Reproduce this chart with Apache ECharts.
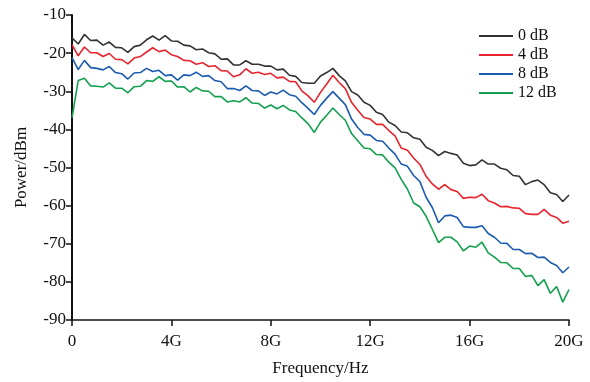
<!DOCTYPE html>
<html>
<head>
<meta charset="utf-8">
<script src="https://cdn.jsdelivr.net/npm/echarts@6/dist/echarts.min.js"></script>
<style>
html,body{margin:0;padding:0;background:#ffffff;}
#chart{width:590px;height:382px;}
</style>
</head>
<body>
<div id="chart"></div>
<script>
// Frequency in GHz
var freqGHz = [0,0.25,0.5,0.75,1,1.25,1.5,1.75,2,2.25,2.5,2.75,3,3.25,3.5,3.75,4,4.25,4.5,4.75,
5,5.25,5.5,5.75,6,6.25,6.5,6.75,7,7.25,7.5,7.75,8,8.25,8.5,8.75,9,9.25,9.5,9.75,
10,10.25,10.5,10.75,11,11.25,11.5,11.75,12,12.25,12.5,12.75,13,13.25,13.5,13.75,14,14.25,14.5,14.75,
15,15.25,15.5,15.75,16,16.25,16.5,16.75,17,17.25,17.5,17.75,18,18.25,18.5,18.75,19,19.25,19.5,19.75,20];

var seriesNames = ['0 dB','4 dB','8 dB','12 dB'];

var power0dB = [-16.0,-17.6,-15.1,-16.7,-16.6,-17.9,-17.1,-18.5,-18.6,-19.8,
-18.3,-17.9,-16.5,-15.5,-16.6,-15.4,-16.8,-16.9,-17.9,-18.1,
-19.1,-18.9,-19.9,-20.2,-21.6,-21.5,-23.1,-23.1,-22.0,-22.9,
-22.9,-23.4,-23.4,-24.4,-24.2,-25.8,-26.1,-27.7,-27.9,-27.9,
-26.0,-25.1,-24.0,-25.9,-27.3,-30.1,-31.0,-32.9,-33.7,-35.5,
-36.1,-38.1,-39.0,-40.7,-40.9,-42.2,-42.6,-44.7,-45.5,-46.9,
-45.8,-46.3,-46.7,-48.9,-49.5,-49.3,-48.0,-49.1,-49.1,-50.2,
-50.6,-52.1,-52.3,-54.5,-53.7,-53.3,-54.5,-56.6,-57.1,-58.9,-57.2];

var power4dB = [-17.8,-20.7,-18.4,-19.9,-19.9,-20.9,-20.1,-21.6,-21.7,-22.8,
-21.3,-20.9,-19.7,-18.6,-19.6,-19.2,-20.4,-20.9,-21.9,-22.0,
-22.9,-22.5,-23.5,-23.3,-24.6,-24.7,-26.2,-25.7,-24.1,-25.3,
-25.0,-25.6,-25.3,-26.5,-26.3,-27.4,-27.5,-29.9,-31.2,-32.9,
-30.3,-28.1,-25.8,-27.7,-29.3,-32.9,-35.0,-36.9,-37.3,-38.7,
-38.7,-40.3,-41.7,-44.9,-45.5,-47.5,-49.2,-52.3,-54.3,-55.7,
-54.5,-55.8,-56.3,-58.1,-57.8,-57.9,-57.0,-58.7,-59.3,-60.3,
-60.2,-60.6,-60.7,-62.1,-62.3,-62.3,-61.0,-62.5,-63.1,-64.6,-64.1];

var power8dB = [-21.2,-24.3,-21.9,-23.8,-24.0,-24.4,-23.5,-25.1,-25.4,-26.8,
-25.2,-25.1,-24.0,-24.8,-24.5,-25.9,-25.7,-27.1,-25.7,-25.9,
-25.0,-26.1,-25.9,-27.2,-27.5,-29.3,-29.3,-29.8,-28.6,-29.8,
-29.9,-31.1,-30.2,-30.7,-29.7,-30.9,-31.3,-33.0,-34.5,-36.1,
-33.7,-31.8,-30.1,-31.8,-33.5,-37.3,-39.5,-41.3,-41.5,-42.9,
-43.1,-44.9,-46.5,-49.1,-49.7,-52.1,-53.7,-57.8,-60.5,-64.5,
-62.7,-62.5,-63.1,-65.5,-65.7,-65.7,-65.3,-67.3,-68.3,-69.8,
-69.9,-71.5,-71.5,-72.6,-72.5,-73.6,-73.5,-74.9,-75.7,-77.6,-76.1];

var power12dB = [-37.0,-27.2,-26.6,-28.6,-28.7,-28.9,-27.8,-29.2,-29.2,-30.4,
-28.8,-28.7,-27.2,-27.4,-26.2,-27.4,-27.3,-28.9,-28.8,-30.2,
-29.0,-29.9,-30.0,-31.4,-31.4,-32.8,-32.5,-32.8,-31.7,-33.1,
-33.2,-34.4,-33.6,-34.6,-33.7,-34.9,-35.3,-37.0,-38.5,-40.8,
-38.1,-36.3,-34.4,-36.1,-37.6,-41.1,-43.0,-44.9,-45.1,-46.6,
-46.7,-48.6,-50.1,-53.1,-55.7,-59.3,-60.3,-62.8,-66.2,-69.7,
-68.3,-68.3,-69.5,-71.9,-70.6,-70.9,-69.6,-72.4,-73.5,-74.9,
-75.0,-76.5,-76.5,-78.6,-78.3,-81.0,-79.4,-83.0,-81.2,-85.3,-82.0];

var xTickLabels = ['0','4G','8G','12G','16G','20G'];

var colors = ['#333333','#e8252d','#1b5cb0','#12a04f'];
var allPower = [power0dB, power4dB, power8dB, power12dB];

function pairs(vals){
  return freqGHz.map(function(f,i){ return [f, vals[i]]; });
}

var fontFam = '"Liberation Serif", "DejaVu Serif", serif';

var chart = echarts.init(document.getElementById('chart'), null, {renderer:'canvas'});
chart.setOption({
  animation:false,
  backgroundColor:'#ffffff',
  color: colors,
  grid:{left:72, right:21, top:15, bottom:60},
  legend:{
    orient:'vertical',
    left:474, top:23,
    itemWidth:34, itemHeight:2, itemGap:3,
    icon:'rect',
    data: seriesNames,
    textStyle:{fontFamily:fontFam, fontSize:16, color:'#111', lineHeight:16, padding:[0,0,0,0]}
  },
  xAxis:{
    type:'value', min:0, max:20, interval:4,
    name:'Frequency/Hz', nameLocation:'middle', nameGap:40,
    nameTextStyle:{fontFamily:fontFam, fontSize:17, color:'#111'},
    axisLine:{lineStyle:{color:'#111', width:1.5}},
    axisTick:{show:true, inside:false, length:6, lineStyle:{color:'#111', width:1.5}},
    axisLabel:{fontFamily:fontFam, fontSize:17, color:'#111', margin:13,
      formatter:function(v){ return xTickLabels[Math.round(v/4)]; }},
    splitLine:{show:false}
  },
  yAxis:{
    type:'value', min:-90, max:-10, interval:10,
    name:'Power/dBm', nameLocation:'middle', nameGap:42, nameRotate:90,
    nameTextStyle:{fontFamily:fontFam, fontSize:17, color:'#111'},
    axisLine:{show:true, lineStyle:{color:'#111', width:2}},
    axisTick:{show:true, length:6, lineStyle:{color:'#111', width:1.5}},
    axisLabel:{fontFamily:fontFam, fontSize:17, color:'#111', margin:6},
    splitLine:{show:false}
  },
  series: seriesNames.map(function(n,k){
    return {
      name:n, type:'line', data:pairs(allPower[k]),
      showSymbol:false, symbol:'none',
      lineStyle:{width:1.6, color:colors[k]},
      itemStyle:{color:colors[k]},
      z: 10-k
    };
  })
});
</script>
</body>
</html>
